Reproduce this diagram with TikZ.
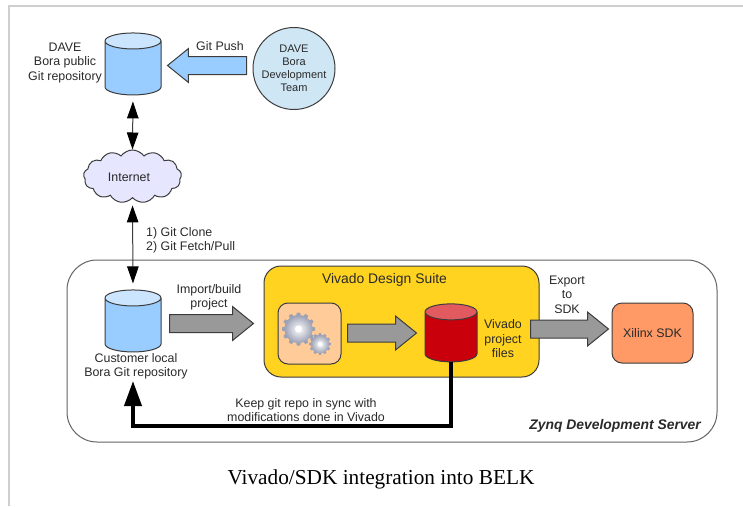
\documentclass[tikz,border=0pt]{standalone}
\usepackage{fontspec}
\setmainfont{Liberation Sans}
\newfontfamily\captionfont{Liberation Serif}
\usetikzlibrary{arrows.meta,shapes.geometric,shapes.symbols,shapes.arrows}

\definecolor{inkgray}{HTML}{2A2A2A}
\definecolor{edgegray}{HTML}{3C3C3C}
\definecolor{framegray}{HTML}{CFCFCF}
\definecolor{repoblue}{HTML}{99CCFF}
\definecolor{repotop}{HTML}{CCE5FF}
\definecolor{teamblue}{HTML}{CFE7F5}
\definecolor{cloudfill}{HTML}{E6E6FF}
\definecolor{suiteyellow}{HTML}{FFD320}
\definecolor{gearbox}{HTML}{FFCC99}
\definecolor{sdkorange}{HTML}{FF9966}
\definecolor{filesred}{HTML}{C9000B}
\definecolor{filestop}{HTML}{E05A5F}
\definecolor{arrowgray}{HTML}{999999}
\definecolor{geargray}{HTML}{9CA1B4}

\begin{document}
\begin{tikzpicture}[
    x=1pt,y=-1pt,
    every node/.style={inner sep=0pt,text=inkgray},
    textlabel/.style={align=center,font=\fontsize{12.4}{14.5}\selectfont},
    repo/.style={cylinder,shape border rotate=90,aspect=1,inner sep=8pt,draw=edgegray,line width=1pt,
      cylinder uses custom fill,minimum width=56pt,minimum height=62pt},
    roundbox/.style={rectangle,draw=edgegray,line width=1pt,rounded corners=#1},
    blockarrow/.style={single arrow,draw=edgegray,line width=1pt,fill=arrowgray,inner sep=8.5pt,
      single arrow head extend=8pt,single arrow tip angle=78,anchor=tail},
    thinlink/.style={draw=edgegray,line width=1pt},
    gearwheel/.pic={
      \foreach \a in {0,30,...,330}
        \fill[geargray,rotate=\a] (-2.6,12) -- (-1.6,16.5) -- (1.6,16.5) -- (2.6,12) -- cycle;
      \shade[inner color=white,outer color=geargray] (0,0) circle (14);
      \fill[white] (0,0) circle (3.5);
    }
  ]

  \useasboundingbox (0,0) rectangle (743,506);
  \draw[framegray,line width=1.2pt] (9,506) -- (9,6) -- (743,6);

  \node (server) [roundbox=30pt,fill=white,draw=edgegray!80,minimum width=650pt,minimum height=182pt] at (392,351) {};
  \node (suite) [roundbox=17pt,fill=suiteyellow,minimum width=275pt,minimum height=111pt] at (401.5,321.5) {};
  \node (gears) [roundbox=10pt,fill=gearbox,minimum width=63pt,minimum height=61pt] at (309.5,333.5) {};
  \node (sdk) [roundbox=10pt,fill=sdkorange,minimum width=81pt,minimum height=60pt,
    font=\fontsize{12.4}{14.5}\selectfont] at (652.5,333) {Xilinx SDK};

  \node (publicrepo) [repo,cylinder body fill=repoblue,cylinder end fill=repotop] at (133,71) {};
  \node (localrepo) [repo,cylinder body fill=repoblue,cylinder end fill=repotop] at (133,328) {};
  \node (projectfiles) [repo,cylinder body fill=filesred,cylinder end fill=filestop,
    minimum width=52pt,minimum height=58pt] at (451,340) {};

  \node (team) [circle,draw=edgegray,line width=1pt,fill=teamblue,minimum size=82pt,align=center,
    font=\fontsize{11}{13}\selectfont] at (294,68.5) {DAVE\\Bora\\Development\\Team};
  \node (internet) [cloud,cloud puffs=13,cloud puff arc=110,aspect=1.85,draw=edgegray,line width=1pt,
    fill=cloudfill,minimum width=98pt,minimum height=53pt] at (132.5,176.5) {};
  \node (internetlabel) [textlabel] at (129,177) {Internet};

  \node (pusharrow) [blockarrow,fill=repoblue,shape border rotate=180,minimum height=79pt,minimum width=33pt] at (247,65.5) {};
  \node (importarrow) [blockarrow,minimum height=84pt,minimum width=33pt] at (169,323.5) {};
  \node (buildarrow) [blockarrow,minimum height=69pt,minimum width=32pt] at (347,333) {};
  \node (exportarrow) [blockarrow,minimum height=78pt,minimum width=32pt] at (530,329) {};

  \pic at (298.5,329) {gearwheel};
  \pic [scale=.66] at (320,344) {gearwheel};

  \node (publiclabel) [textlabel] at (65,63) {DAVE\\Bora public\\Git repository};
  \node (pushlabel) [textlabel] at (220,46) {Git Push};
  \node (clonelabel) [textlabel,align=left,anchor=west] at (146,240.5) {1) Git Clone\\2) Git Fetch/Pull};
  \node (locallabel) [textlabel] at (136,366.5) {Customer local\\Bora Git repository};
  \node (importlabel) [textlabel] at (209,297.5) {Import/build\\project};
  \node (synclabel) [textlabel] at (306,410) {Keep git repo in sync with\\modifications done in Vivado};
  \node (fileslabel) [textlabel] at (503,339) {Vivado\\project\\files};
  \node (exportlabel) [textlabel] at (567,294.5) {Export\\to\\SDK};
  \node (suitelabel) [font=\fontsize{13.9}{16}\selectfont] at (384.5,280) {Vivado Design Suite};
  \node (serverlabel) [font=\fontsize{13.9}{16}\selectfont\bfseries\itshape,anchor=east] at (701,426) {Zynq Development Server};
  \node (caption) [font=\fontsize{21.3}{25}\selectfont\captionfont,text=black] at (381,479) {Vivado/SDK integration into BELK};

  \coordinate (synctip) at (133,381);
  \coordinate (syncturn) at (133,426);

  \draw[thinlink,{Triangle[length=17pt,width=11.5pt,black]}-{Triangle[length=17pt,width=11.5pt,black]},shorten <=6pt] (publicrepo.south) -- (internet.north);
  \draw[thinlink,{Triangle[length=17pt,width=11.5pt,black]}-{Triangle[length=17pt,width=11.5pt,black]},shorten <=7pt,shorten >=6pt] (internet.south) -- (localrepo.north);
  \draw[black,line width=4pt,-{Triangle[length=25pt,width=17pt]}] (projectfiles.south) |- (syncturn) -- (synctip);

\end{tikzpicture}
\end{document}
